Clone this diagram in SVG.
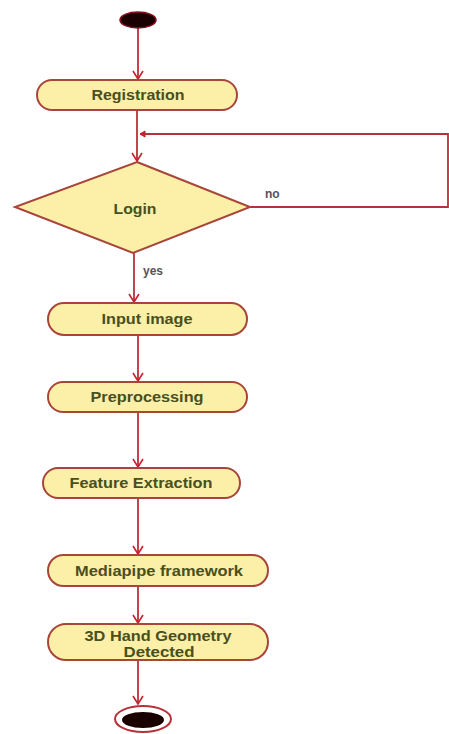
<svg xmlns="http://www.w3.org/2000/svg" width="449" height="734" viewBox="0 0 449 734">
<defs>
<marker id="arr" markerWidth="12" markerHeight="12" refX="10" refY="6" orient="auto" markerUnits="userSpaceOnUse">
<path d="M2,1 L10,6 L2,11" fill="none" stroke="#c8202c" stroke-width="1.6"/>
</marker>
<marker id="arrs" markerWidth="8" markerHeight="8" refX="6" refY="4" orient="auto" markerUnits="userSpaceOnUse">
<path d="M1,1 L6,4 L1,7 Z" fill="#c8202c" stroke="#c8202c" stroke-width="1"/>
</marker>
</defs>
<style>
.act{fill:#fcefa8;stroke:#a8453a;stroke-width:2}
.lbl{font-family:"Liberation Sans",Arial,sans-serif;font-weight:bold;font-size:14px;fill:#48501e;text-anchor:middle}
.edge{fill:none;stroke:#b8303a;stroke-width:1.8}
.gl{font-family:"Liberation Sans",Arial,sans-serif;font-weight:bold;font-size:12px;fill:#555}
</style>
<rect width="449" height="734" fill="#ffffff"/>
<g id="connectors">
<path class="edge" d="M138,27 V79" marker-end="url(#arr)"/>
<path class="edge" d="M137,110 V161" marker-end="url(#arr)"/>
<path class="edge" d="M250,207 H448 V134 H140" marker-end="url(#arrs)"/>
<path class="edge" d="M134,253 V302" marker-end="url(#arr)"/>
<path class="edge" d="M138,335 V381" marker-end="url(#arr)"/>
<path class="edge" d="M138,412 V467" marker-end="url(#arr)"/>
<path class="edge" d="M138,498 V554" marker-end="url(#arr)"/>
<path class="edge" d="M138,586 V623" marker-end="url(#arr)"/>
<path class="edge" d="M138,660 V704" marker-end="url(#arr)"/>
<text class="gl" x="265" y="198">no</text>
<text class="gl" x="143" y="275">yes</text>
</g>
<g id="start"><ellipse cx="138" cy="20" rx="18" ry="8" fill="#1a0000" stroke="#8a1020" stroke-width="1.5"/></g>
<g id="registration">
<rect class="act" x="37" y="80" width="200" height="30" rx="15" ry="15"/>
<text class="lbl" x="138" y="100" textLength="93" lengthAdjust="spacingAndGlyphs">Registration</text>
</g>
<g id="login">
<polygon class="act" points="137,162 250,207 133,253 15,207"/>
<text class="lbl" x="135" y="214" textLength="43" lengthAdjust="spacingAndGlyphs">Login</text>
</g>
<g id="input-image">
<rect class="act" x="48" y="303" width="199" height="32" rx="16" ry="16"/>
<text class="lbl" x="147" y="324" textLength="91" lengthAdjust="spacingAndGlyphs">Input image</text>
</g>
<g id="preprocessing">
<rect class="act" x="48" y="382" width="199" height="30" rx="15" ry="15"/>
<text class="lbl" x="147" y="402" textLength="113" lengthAdjust="spacingAndGlyphs">Preprocessing</text>
</g>
<g id="feature-extraction">
<rect class="act" x="43" y="468" width="197" height="30" rx="15" ry="15"/>
<text class="lbl" x="141" y="488" textLength="143" lengthAdjust="spacingAndGlyphs">Feature Extraction</text>
</g>
<g id="mediapipe">
<rect class="act" x="48" y="555" width="220" height="31" rx="15.5" ry="15.5"/>
<text class="lbl" x="159" y="576" textLength="168" lengthAdjust="spacingAndGlyphs">Mediapipe framework</text>
</g>
<g id="hand-geometry">
<rect class="act" x="48" y="624" width="220" height="36" rx="18" ry="18"/>
<text class="lbl" x="158" y="641" textLength="147" lengthAdjust="spacingAndGlyphs">3D Hand Geometry</text>
<text class="lbl" x="159" y="657" textLength="71" lengthAdjust="spacingAndGlyphs">Detected</text>
</g>
<g id="end">
<ellipse cx="143" cy="719" rx="28" ry="13" fill="#ffffff" stroke="#b8303a" stroke-width="2"/>
<ellipse cx="143" cy="720" rx="21" ry="8" fill="#1a0000"/>
</g>
</svg>
